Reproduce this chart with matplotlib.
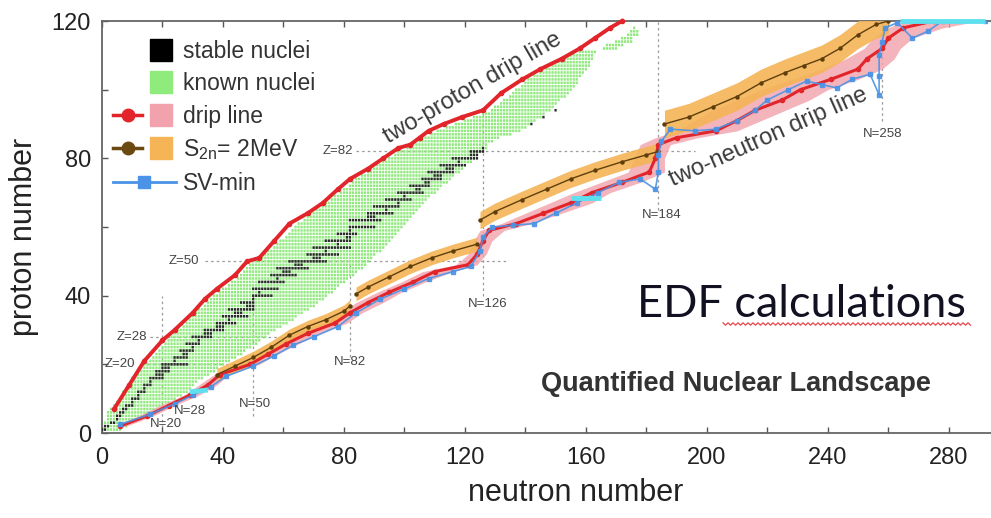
import numpy as np
import matplotlib
matplotlib.use("Agg")
import matplotlib.pyplot as plt
from matplotlib.lines import Line2D
from matplotlib.legend_handler import HandlerTuple
from matplotlib.ticker import MultipleLocator

plt.rcParams['font.family'] = ['Liberation Sans', 'DejaVu Sans']

# ---------------------------------------------------------------- data
# known nuclei: proton number with lightest / heaviest observed neutron number
known_Z = list(range(1, 112)) + [112, 113, 114, 115, 116, 117, 118]
known_N_min = [0, 1, 1, 2, 2, 2, 3, 4, 5, 6, 7, 7, 8, 9, 10, 10, 11, 12, 14, 14,
               16, 17, 18, 19, 20, 21, 22, 23, 24, 25, 27, 28, 29, 30, 31, 32, 34, 35, 36, 37,
               39, 40, 42, 43, 45, 46, 47, 48, 49, 50, 53, 54, 55, 57, 58, 59, 61, 62, 63, 64,
               65, 67, 68, 70, 71, 73, 74, 76, 77, 79, 80, 82, 83, 84, 86, 88, 89, 91, 93, 95,
               97, 98, 101, 103, 105, 107, 109, 111, 114, 117, 120, 123, 126, 129, 130, 132, 133, 135, 136, 137,
               139, 140, 141, 143, 145, 147, 149, 151, 153, 155, 158,
               166, 167, 170, 172, 174, 175, 176]
known_N_max = [6, 8, 9, 12, 14, 16, 18, 20, 22, 24, 26, 28, 29, 30, 31, 33, 35, 37, 38, 40,
               42, 44, 46, 47, 49, 51, 52, 54, 55, 57, 59, 61, 63, 64, 66, 68, 70, 71, 73, 74,
               76, 77, 78, 80, 81, 83, 84, 86, 87, 88, 89, 90, 92, 93, 94, 95, 96, 97, 98, 99,
               100, 101, 102, 103, 104, 105, 106, 107, 108, 110, 111, 112, 114, 115, 116, 118, 119, 120, 122, 123,
               124, 126, 127, 127, 129, 131, 135, 138, 140, 141, 143, 145, 146, 148, 149, 150, 151, 153, 154, 155,
               156, 157, 157, 158, 159, 160, 161, 161, 162, 162, 163,
               170, 172, 175, 175, 177, 177, 176]

# stable (and very long-lived) nuclei
stable_Z = [1, 2, 3, 4, 5, 6, 7, 8, 9, 10, 11, 12, 13, 14, 15, 16, 17, 18, 19, 20,
            21, 22, 23, 24, 25, 26, 27, 28, 29, 30, 31, 32, 33, 34, 35, 36, 37, 38, 39, 40,
            41, 42, 44, 45, 46, 47, 48, 49, 50, 51, 52, 53, 54, 55, 56, 57, 58, 59, 60,
            62, 63, 64, 65, 66, 67, 68, 69, 70, 71, 72, 73, 74, 75, 76, 77, 78, 79, 80,
            81, 82, 83, 90, 92, 94]
stable_N_lo = [0, 1, 3, 5, 5, 6, 7, 8, 10, 10, 12, 12, 14, 14, 16, 16, 18, 18, 20, 20,
               24, 24, 27, 26, 30, 28, 32, 30, 34, 34, 38, 38, 42, 40, 44, 42, 48, 46, 50, 50,
               52, 50, 52, 58, 56, 60, 58, 64, 62, 70, 68, 74, 70, 78, 74, 81, 78, 82, 82,
               82, 88, 88, 94, 90, 98, 94, 100, 98, 104, 102, 107, 106, 110, 108, 114, 112, 118, 116,
               122, 122, 126, 142, 146, 150]
stable_N_hi = [1, 2, 4, 5, 6, 7, 8, 10, 10, 12, 12, 14, 14, 16, 16, 20, 20, 22, 22, 28,
               24, 28, 28, 30, 30, 32, 32, 36, 36, 40, 40, 44, 42, 48, 46, 50, 50, 50, 50, 56,
               52, 58, 60, 58, 64, 62, 68, 66, 74, 72, 78, 74, 82, 78, 82, 82, 84, 82, 90,
               92, 90, 96, 94, 98, 98, 102, 100, 106, 105, 108, 108, 112, 112, 116, 116, 120, 118, 124,
               124, 126, 126, 142, 146, 150]

# two-proton drip line
dripp_N = [4, 9, 14, 20, 24, 30, 34, 38, 44, 48, 52, 57, 62, 68, 73, 78, 82, 88, 93, 98,
           102, 105, 108, 113, 119, 126, 132, 139, 145, 152, 158, 163, 168, 172]
dripp_Z = [7, 14, 21, 27, 30, 35, 39, 42, 46, 50, 51, 56, 61, 64, 67, 71, 74, 77, 80, 83,
           84, 86, 88, 90, 92, 94, 99, 103, 106, 109, 112, 115, 118, 120]

# two-neutron drip line with its uncertainty band
dripn_Z = [2, 5, 8, 11, 14, 17, 20, 23, 26, 29, 32, 35, 38, 41, 44, 47, 49, 52, 56, 59,
           61, 64, 67, 70, 73, 76, 80, 84, 86, 88, 91, 94, 97, 100, 103, 106, 109, 112, 115, 118, 120]
dripn_N = [6, 15, 22, 29, 35, 39, 49, 55, 61, 68, 77, 82, 88, 95, 103, 110, 121, 124, 126, 128,
           137, 146, 155, 162, 172, 181, 183, 184, 190, 203, 210, 216, 225, 231, 241, 250, 253, 258, 260, 265, 275]
dripn_N_lo = [4, 12, 19, 27, 32, 37, 45, 52, 58, 64, 73, 79, 84, 91, 99, 106, 117, 121, 123, 125,
              132, 140, 148, 156, 165, 174, 176, 178, 183, 190, 196, 202, 210, 218, 228, 238, 246, 252, 255, 260, 265]
dripn_N_hi = [8, 17, 24, 32, 38, 42, 52, 58, 65, 72, 81, 86, 93, 99, 107, 116, 124, 127, 129, 133,
              142, 152, 162, 168, 178, 186, 186, 188, 197, 210, 218, 226, 234, 240, 250, 258, 262, 264, 268, 278, 290]

# S2n = 2 MeV line, split at the shell closures, with band half-widths
s2n_seg1_N = [38, 44, 50, 56, 62, 68, 74, 80, 82]
s2n_seg1_Z = [17, 19.5, 22, 25, 28.5, 31, 33, 35.5, 37]
s2n_seg2_N = [84, 88, 95, 102, 109, 116, 124]
s2n_seg2_Z = [40.5, 42.5, 45.5, 48.5, 51, 53, 55]
s2n_seg3_N = [125, 130, 139, 147, 155, 163, 172, 180, 184]
s2n_seg3_Z = [62, 64.5, 68, 71, 74, 76.5, 79, 81, 82]
s2n_seg4_N = [186, 194, 202, 210, 218, 226, 232, 238, 244, 250, 256, 260]
s2n_seg4_Z = [90, 92, 95, 98, 102, 105, 107, 109, 112, 116, 119, 120]
s2n_halfwidth = [1.8, 2.0, 2.5, 4.0]

# SV-min drip line
svmin_N = [6, 16, 24, 30, 36, 41, 50, 57, 63, 70, 78, 84, 92, 100, 108, 116, 122, 125, 126, 129,
           136, 143, 150, 157, 164, 171, 178, 183, 184, 184, 185, 188, 196, 203, 210, 216, 220, 227, 233, 238,
           243, 248, 254, 257, 257, 257, 258, 259, 263, 268, 273, 278, 292]
svmin_Z = [2.5, 5.5, 8.5, 11, 13.5, 16.5, 19.5, 22.5, 25.5, 28, 31, 35, 39, 42, 45, 47, 48.5, 53, 57, 60,
           60.5, 61, 64, 67, 70, 73, 74, 71, 76, 81, 85, 88.5, 88, 88.5, 91, 94, 97, 100, 102.5, 101.5,
           100.5, 103, 104.5, 98.5, 104, 110, 114, 118, 119.5, 115, 117, 120, 120]
# SV-min stretches lying along a single isotope chain
svflat_a_N, svflat_a_Z = [29, 35], [12, 12.5]
svflat_b_N, svflat_b_Z = [155, 165], [68.5, 68.5]
svflat_c_N, svflat_c_Z = [264, 292], [120, 120]

# magic numbers
magic_Z = [20, 28, 50, 82]
magic_Z_from = [15, 16, 34, 84]
magic_Z_to = [45, 60, 134, 196]
magic_Z_label_N = [6, 10, 27, 78]
magic_N = [20, 50, 82, 126, 184, 258]
magic_N_from = [0, 5, 22, 40, 65, 91]
magic_N_to = [40, 40, 50, 93, 120, 120]
label_N_text = ['N=20', 'N=28', 'N=50', 'N=82', 'N=126', 'N=184', 'N=258']
label_N_pos = [(21, 2.6), (29, 6.4), (50.7, 8.5), (82, 20.8), (127.5, 37.7), (185, 63.5), (258, 87)]

# ---------------------------------------------------------------- figure
fig = plt.figure(figsize=(9.91, 5.18), dpi=100)
ax = fig.add_axes([102 / 991, 1 - 433 / 518, 1 - 102 / 991, (433 - 21) / 518])
ax.set_xlim(0, 294)
ax.set_ylim(0, 120)

grid_kw = dict(color='#9a9a9a', lw=0.9, ls=(0, (2, 2.5)), zorder=1)
for z, a, b in zip(magic_Z, magic_Z_from, magic_Z_to):
    ax.plot([a, b], [z, z], **grid_kw)
for n, a, b in zip(magic_N, magic_N_from, magic_N_to):
    ax.plot([n, n], [a, b], **grid_kw)

# nuclide cells: one small rectangle per (N, Z)
def cells(z_list, lo_list, hi_list):
    cn, cz = [], []
    for z, lo, hi in zip(z_list, lo_list, hi_list):
        for n in range(lo, hi + 1):
            cn.append(n)
            cz.append(z)
    return np.array(cn, float), np.array(cz, float)

kn_N, kn_Z = cells(known_Z, known_N_min, known_N_max)
ax.bar(kn_N, 0.74, width=0.74, bottom=kn_Z - 0.37, color='#8fe97c', lw=0,
       snap=False, zorder=2)
st_N, st_Z = cells(stable_Z, stable_N_lo, stable_N_hi)
ax.bar(st_N, 0.74, width=0.74, bottom=st_Z - 0.37, color='#2a2a2a', lw=0,
       snap=False, zorder=3)

# two-neutron drip line band
ax.fill_betweenx(dripn_Z, dripn_N_lo, dripn_N_hi, color='#f2a2ac', alpha=0.8,
                 lw=0, zorder=3)

# S2n = 2 MeV bands and lines
segs = [(s2n_seg1_N, s2n_seg1_Z), (s2n_seg2_N, s2n_seg2_Z),
        (s2n_seg3_N, s2n_seg3_Z), (s2n_seg4_N, s2n_seg4_Z)]
for (sn, sz), hw in zip(segs, s2n_halfwidth):
    sz = np.asarray(sz, float)
    ax.fill_between(sn, sz - hw, sz + hw, color='#f5b455', alpha=0.9, lw=0, zorder=4)
for sn, sz in segs:
    ax.plot(sn, sz, color='#5e3f0c', lw=1.0, marker='o', ms=2.2, zorder=6)

# drip lines
ax.plot(dripn_N, dripn_Z, color='#e2252b', lw=2.2, marker='o', ms=3, zorder=5)
ax.plot(svmin_N, svmin_Z, color='#4a93e6', lw=1.2, marker='s', ms=2.6, alpha=0.9, zorder=6)
for fn, fz in [(svflat_a_N, svflat_a_Z), (svflat_b_N, svflat_b_Z), (svflat_c_N, svflat_c_Z)]:
    ax.plot(fn, fz, color='#5fe0ef', lw=3.5, solid_capstyle='butt', zorder=7, clip_on=False)
ax.plot(dripp_N, dripp_Z, color='#e2252b', lw=2.8, marker='o', ms=3, zorder=5, clip_on=False)

# magic-number labels
lab_kw = dict(fontsize=9.5, color='#444444', ha='center', va='center', zorder=8)
for z, n in zip(magic_Z, magic_Z_label_N):
    ax.text(n, z, f'Z={z}', **lab_kw)
for t, (n, z) in zip(label_N_text, label_N_pos):
    ax.text(n, z, t, **lab_kw)

ax.text(122.5, 100.5, 'two-proton drip line', rotation=30, fontsize=17,
        color='#3a3a3a', ha='center', va='center', zorder=8)
ax.text(220.5, 86, 'two-neutron drip line', rotation=24, fontsize=17,
        color='#3a3a3a', ha='center', va='center', zorder=8)

# axes styling
ax.xaxis.set_major_locator(MultipleLocator(40))
ax.xaxis.set_minor_locator(MultipleLocator(20))
ax.yaxis.set_major_locator(MultipleLocator(40))
ax.yaxis.set_minor_locator(MultipleLocator(20))
ax.tick_params(which='both', direction='in', top=True, right=False, length=4,
               width=1, color='#555555', labelsize=17, labelcolor='#222222')
ax.tick_params(axis='x', pad=10)
ax.tick_params(axis='y', pad=8)
for side in ['left', 'bottom', 'top']:
    ax.spines[side].set_color('#666666')
    ax.spines[side].set_linewidth(1.3)
ax.spines['right'].set_visible(False)

ax.set_xlabel('neutron number', fontsize=22, color='#222222', va='center')
ax.set_ylabel('proton number', fontsize=22, color='#222222', va='center')
ax.xaxis.set_label_coords(0.533, -0.146)
ax.yaxis.set_label_coords(-0.088, 0.476)

# legend
blank = Line2D([], [], ls='none')
sq = dict(marker='s', ls='none', ms=16)
h_stable = (blank, Line2D([], [], mfc='black', mec='black', **sq))
h_known = (blank, Line2D([], [], mfc='#8fec7c', mec='#8fec7c', **sq))
h_drip = (Line2D([], [], color='#e2252b', lw=2.5, marker='o', ms=9),
          Line2D([], [], mfc='#f2a2ac', mec='#f2a2ac', **sq))
h_s2n = (Line2D([], [], color='#6b4a12', lw=2.5, marker='o', ms=9),
         Line2D([], [], mfc='#f5b455', mec='#f5b455', **sq))
h_sv = Line2D([], [], color='#4a93e6', lw=2, marker='s', ms=8)
leg = ax.legend([h_stable, h_known, h_drip, h_s2n, h_sv],
                ['stable nuclei', 'known nuclei', 'drip line',
                 r'S$_{\mathregular{2n}}$= 2MeV', 'SV-min'],
                handler_map={tuple: HandlerTuple(ndivide=None, pad=0.15)},
                loc='upper left', bbox_to_anchor=(0.012, 0.955), frameon=False,
                fontsize=16.5, handlelength=2.75, handletextpad=0.3,
                labelspacing=0.42, borderaxespad=0, borderpad=0)
for t in leg.get_texts():
    t.set_color('#333333')

# annotations
fig.text(801 / 991, 1 - 317 / 518, 'EDF calculations', family=['Lato', 'DejaVu Sans'],
         fontsize=32.5, color='#111122', ha='center', va='baseline')
wx = np.arange(723, 971, 2.5)
wy = 324 + np.where(np.arange(wx.size) % 2 == 0, -1.2, 1.2)
fig.add_artist(Line2D(wx / 991, 1 - wy / 518, transform=fig.transFigure,
                      color='#e8474c', lw=0.9))
fig.text(736 / 991, 1 - 384 / 518, 'Quantified Nuclear Landscape', fontsize=19.5,
         fontweight='bold', color='#333333', ha='center', va='center')

fig.savefig('out.png', dpi=100)
